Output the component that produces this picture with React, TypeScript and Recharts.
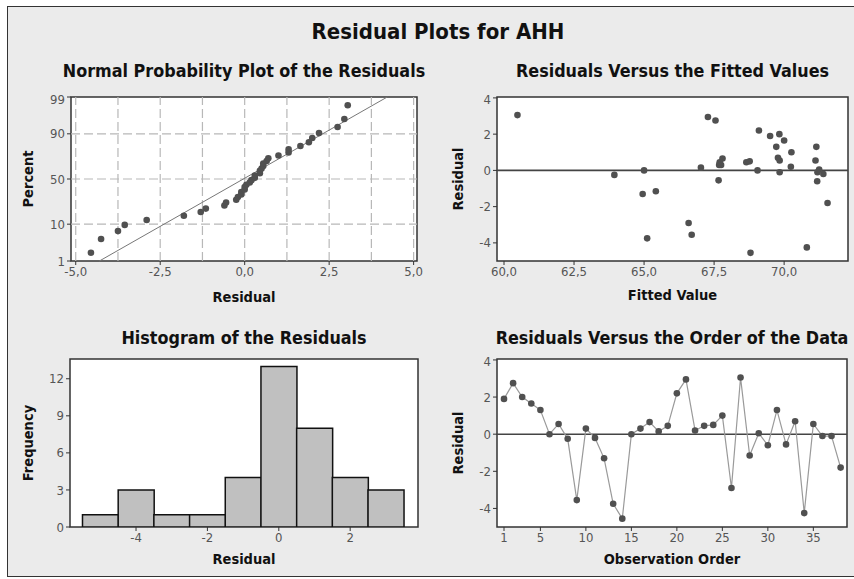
import React from "react"
import {
  ComposedChart, Scatter, Line, Bar, XAxis, YAxis, CartesianGrid,
  ReferenceLine, ReferenceArea
} from "recharts"

const FONT = "'DejaVu Sans Condensed', 'DejaVu Sans', Verdana, sans-serif"

// residuals in observation order 1..38
const residuals = [
  1.9, 2.75, 2.0, 1.65, 1.3, 0.0, 0.55, -0.25, -3.55, 0.3,
  -0.2, -1.3, -3.75, -4.55, 0.0, 0.3, 0.65, 0.15, 0.45, 2.2,
  2.95, 0.2, 0.45, 0.5, 1.0, -2.9, 3.05, -1.15, 0.05, -0.6,
  1.3, -0.55, 0.7, -4.25, 0.55, -0.1, -0.1, -1.8,
]
// fitted values, same order
const fitted = [
  69.5, 67.55, 69.83, 70.0, 69.72, 65.0, 69.84, 63.94, 66.7, 67.68,
  71.4, 64.95, 65.11, 68.8, 69.05, 67.75, 67.8, 67.03, 68.65, 69.1,
  67.28, 70.24, 67.7, 68.77, 70.26, 66.59, 60.48, 65.42, 71.25, 71.18,
  71.15, 67.66, 69.78, 70.81, 71.12, 69.84, 71.19, 71.55,
]
const histBins = [-5, -4, -3, -2, -1, 0, 1, 2, 3]
const histCounts = [1, 3, 1, 1, 4, 13, 8, 4, 3]

const percentTicks = [1, 10, 50, 90, 99]
const percentGrid = [10, 50, 90]
const residualTicks = [-5, -2.5, 0, 2.5, 5]
const residualGrid = [-5, -3.75, -2.5, -1.25, 0, 1.25, 2.5, 3.75, 5]
const fitLine = [{ x: -4.3, p: 1 }, { x: 4.22, p: 99 }]
const fittedTicks = [60, 62.5, 65, 67.5, 70]
const resTicks = [-4, -2, 0, 2, 4]
const orderTicks = [1, 5, 10, 15, 20, 25, 30, 35]
const histXTicks = [-4, -2, 0, 2]
const freqTicks = [0, 3, 6, 9, 12]

// inverse normal cdf (probability axis scale)
function probit(p: number) {
  const a = [-39.69683028665376, 220.9460984245205, -275.9285104469687, 138.357751867269, -30.66479806614716, 2.506628277459239]
  const b = [-54.47609879822406, 161.5858368580409, -155.6989798598866, 66.80131188771972, -13.28068155288572]
  const c = [-0.007784894002430293, -0.3223964580411365, -2.400758277161838, -2.549732539343734, 4.374664141464968, 2.938163982698783]
  const d = [0.007784695709041462, 0.3224671290700398, 2.445134137142996, 3.754408661907416]
  const lo = 0.02425
  if (p < lo) {
    const q = Math.sqrt(-2 * Math.log(p))
    return (((((c[0] * q + c[1]) * q + c[2]) * q + c[3]) * q + c[4]) * q + c[5]) / ((((d[0] * q + d[1]) * q + d[2]) * q + d[3]) * q + 1)
  }
  if (p > 1 - lo) return -probit(1 - p)
  const q = p - 0.5, r = q * q
  return (((((a[0] * r + a[1]) * r + a[2]) * r + a[3]) * r + a[4]) * r + a[5]) * q / (((((b[0] * r + b[1]) * r + b[2]) * r + b[3]) * r + b[4]) * r + 1)
}
const pz = (pct: number) => probit(pct / 100)

const n = residuals.length
const probData = [...residuals].sort((a, b) => a - b)
  .map((r, i) => ({ x: r, z: pz((i + 1 - 0.3) / (n + 0.4) * 100) }))
const fittedData = residuals.map((r, i) => ({ f: fitted[i], r }))
const orderData = residuals.map((r, i) => ({ o: i + 1, r }))
const histData = histBins.map((b, i) => ({ bin: b, count: histCounts[i] }))

const comma = (v: number) => v.toFixed(1).replace(".", ",")
const pctLabel = (z: number) => {
  let best = percentTicks[0]
  percentTicks.forEach((p) => { if (Math.abs(pz(p) - z) < Math.abs(pz(best) - z)) best = p })
  return String(best)
}

const YW = 48, XH = 45, M = 6
const tick = { fill: "#555", fontSize: 13, fontFamily: FONT, fontStretch: "condensed" }
const lblStyle = { fill: "#111", fontSize: 14.5, fontWeight: 700, fontFamily: FONT, fontStretch: "condensed" }

type Rect = [number, number, number, number]
const P1: Rect = [71, 97, 417, 261]
const P2: Rect = [497, 97, 848, 261]
const P3: Rect = [70, 359, 418, 527]
const P4: Rect = [497, 359, 847, 527]

function box(r: Rect) {
  return {
    pos: { position: "absolute" as const, left: r[0] - YW - M, top: r[1] - M },
    width: r[2] - r[0] + YW + 2 * M,
    height: r[3] - r[1] + XH + 2 * M,
    margin: { top: M, right: M, bottom: M, left: M },
  }
}

function Title({ r, y, text }: { r: Rect; y: number; text: string }) {
  return (
    <div style={{
      position: "absolute", left: r[0] - 60, width: r[2] - r[0] + 120, top: y - 11,
      textAlign: "center", fontFamily: FONT, fontStretch: "condensed", fontWeight: 700,
      fontSize: 17.8, lineHeight: "22px", color: "#111", whiteSpace: "nowrap",
    }}>{text}</div>
  )
}

function Border({ x, y }: { x: [number, number]; y: [number, number] }) {
  return <ReferenceArea x1={x[0]} x2={x[1]} y1={y[0]} y2={y[1]} fill="none" stroke="#333" strokeWidth={1.5} ifOverflow="visible" />
}

const dotShape = (p: any) => <circle cx={p.cx} cy={p.cy} r={3.3} fill="#505050" />

function NormalPlot() {
  const b = box(P1)
  const xd: [number, number] = [-5.14, 5.1]
  const yd: [number, number] = [pz(1), pz(99)]
  return (
    <div style={b.pos}>
      <ComposedChart width={b.width} height={b.height} margin={b.margin}>
        <CartesianGrid fill="#fff" horizontal={false} vertical={false} />
        <XAxis type="number" dataKey="x" domain={xd} ticks={residualTicks} tickFormatter={comma}
          allowDataOverflow axisLine={false} tickSize={4} tickLine={{ stroke: "#333" }} tick={tick} height={XH}
          label={{ value: "Residual", position: "insideBottom", offset: 4, style: lblStyle }} />
        <YAxis type="number" dataKey="z" domain={yd} ticks={percentTicks.map(pz)} tickFormatter={pctLabel}
          allowDataOverflow axisLine={false} tickSize={4} tickLine={{ stroke: "#333" }} tick={tick} width={YW}
          label={{ value: "Percent", angle: -90, position: "insideLeft", offset: 5, textAnchor: "middle", style: lblStyle }} />
        {residualGrid.map((v) => (
          <ReferenceLine key={"v" + v} x={v} stroke="#b8b8b8" strokeWidth={1.2} strokeDasharray="9 4" />
        ))}
        {percentGrid.map((p) => (
          <ReferenceLine key={"h" + p} y={pz(p)} stroke="#b8b8b8" strokeWidth={1.2} strokeDasharray="9 4" />
        ))}
        <ReferenceLine
          segment={[{ x: fitLine[0].x, y: pz(fitLine[0].p) }, { x: fitLine[1].x, y: pz(fitLine[1].p) }]}
          stroke="#777" strokeWidth={1} />
        <Scatter data={probData} isAnimationActive={false} shape={dotShape} />
        <Border x={xd} y={yd} />
      </ComposedChart>
    </div>
  )
}

function FittedPlot() {
  const b = box(P2)
  const xd: [number, number] = [59.75, 72.28]
  const yd: [number, number] = [-5, 4.05]
  return (
    <div style={b.pos}>
      <ComposedChart width={b.width} height={b.height} margin={b.margin}>
        <CartesianGrid fill="#fff" horizontal={false} vertical={false} />
        <XAxis type="number" dataKey="f" domain={xd} ticks={fittedTicks} tickFormatter={comma}
          allowDataOverflow axisLine={false} tickSize={4} tickLine={{ stroke: "#333" }} tick={tick} height={XH}
          label={{ value: "Fitted Value", position: "insideBottom", offset: 6, style: lblStyle }} />
        <YAxis type="number" dataKey="r" domain={yd} ticks={resTicks}
          allowDataOverflow axisLine={false} tickSize={4} tickLine={{ stroke: "#333" }} tick={tick} width={YW}
          label={{ value: "Residual", angle: -90, position: "insideLeft", offset: 9, textAnchor: "middle", style: lblStyle }} />
        <ReferenceLine y={0} stroke="#444" strokeWidth={1.6} />
        <Scatter data={fittedData} isAnimationActive={false} shape={dotShape} />
        <Border x={xd} y={yd} />
      </ComposedChart>
    </div>
  )
}

function HistPlot() {
  const b = box(P3)
  const xd: [number, number] = [-5.85, 3.9]
  const yd: [number, number] = [0, 13.6]
  return (
    <div style={b.pos}>
      <ComposedChart width={b.width} height={b.height} margin={b.margin} data={histData} barCategoryGap={0} barGap={0}>
        <CartesianGrid fill="#fff" horizontal={false} vertical={false} />
        <XAxis type="number" dataKey="bin" domain={xd} ticks={histXTicks}
          allowDataOverflow axisLine={false} tickSize={4} tickLine={{ stroke: "#333" }} tick={tick} height={XH}
          label={{ value: "Residual", position: "insideBottom", offset: 8, style: lblStyle }} />
        <YAxis type="number" domain={yd} ticks={freqTicks}
          allowDataOverflow axisLine={false} tickSize={4} tickLine={{ stroke: "#333" }} tick={tick} width={YW}
          label={{ value: "Frequency", angle: -90, position: "insideLeft", offset: 6, textAnchor: "middle", style: lblStyle }} />
        <Bar dataKey="count" fill="#c0c0c0" stroke="#111" strokeWidth={1.5} isAnimationActive={false} />
        <Border x={xd} y={yd} />
      </ComposedChart>
    </div>
  )
}

function OrderPlot() {
  const b = box(P4)
  const xd: [number, number] = [0.23, 38.7]
  const yd: [number, number] = [-5, 4.05]
  return (
    <div style={b.pos}>
      <ComposedChart width={b.width} height={b.height} margin={b.margin} data={orderData}>
        <CartesianGrid fill="#fff" horizontal={false} vertical={false} />
        <XAxis type="number" dataKey="o" domain={xd} ticks={orderTicks}
          allowDataOverflow axisLine={false} tickSize={4} tickLine={{ stroke: "#333" }} tick={tick} height={XH}
          label={{ value: "Observation Order", position: "insideBottom", offset: 8, style: lblStyle }} />
        <YAxis type="number" dataKey="r" domain={yd} ticks={resTicks}
          allowDataOverflow axisLine={false} tickSize={4} tickLine={{ stroke: "#333" }} tick={tick} width={YW}
          label={{ value: "Residual", angle: -90, position: "insideLeft", offset: 9, textAnchor: "middle", style: lblStyle }} />
        <ReferenceLine y={0} stroke="#444" strokeWidth={1.6} />
        <Line dataKey="r" stroke="#9a9a9a" strokeWidth={1.2} isAnimationActive={false}
          dot={{ r: 3.3, fill: "#505050", stroke: "#505050", strokeWidth: 0 }} activeDot={false} />
        <Border x={xd} y={yd} />
      </ComposedChart>
    </div>
  )
}

export default function App() {
  return (
    <div style={{ position: "absolute", left: 0, top: 0, width: 854, height: 579, background: "#fff", overflow: "hidden" }}>
      <div style={{
        position: "absolute", left: 7, top: 6, width: 900, height: 571,
        background: "#ebebeb", border: "1.5px solid #333", boxSizing: "border-box",
      }} />
      <div style={{
        position: "absolute", left: 238, width: 400, top: 19, textAlign: "center",
        fontFamily: FONT, fontStretch: "condensed", fontWeight: 700, fontSize: 22, lineHeight: "26px", color: "#111",
      }}>Residual Plots for AHH</div>
      <Title r={P1} y={71} text="Normal Probability Plot of the Residuals" />
      <Title r={P2} y={71} text="Residuals Versus the Fitted Values" />
      <Title r={P3} y={338} text="Histogram of the Residuals" />
      <Title r={P4} y={338} text="Residuals Versus the Order of the Data" />
      <NormalPlot />
      <FittedPlot />
      <HistPlot />
      <OrderPlot />
    </div>
  )
}
